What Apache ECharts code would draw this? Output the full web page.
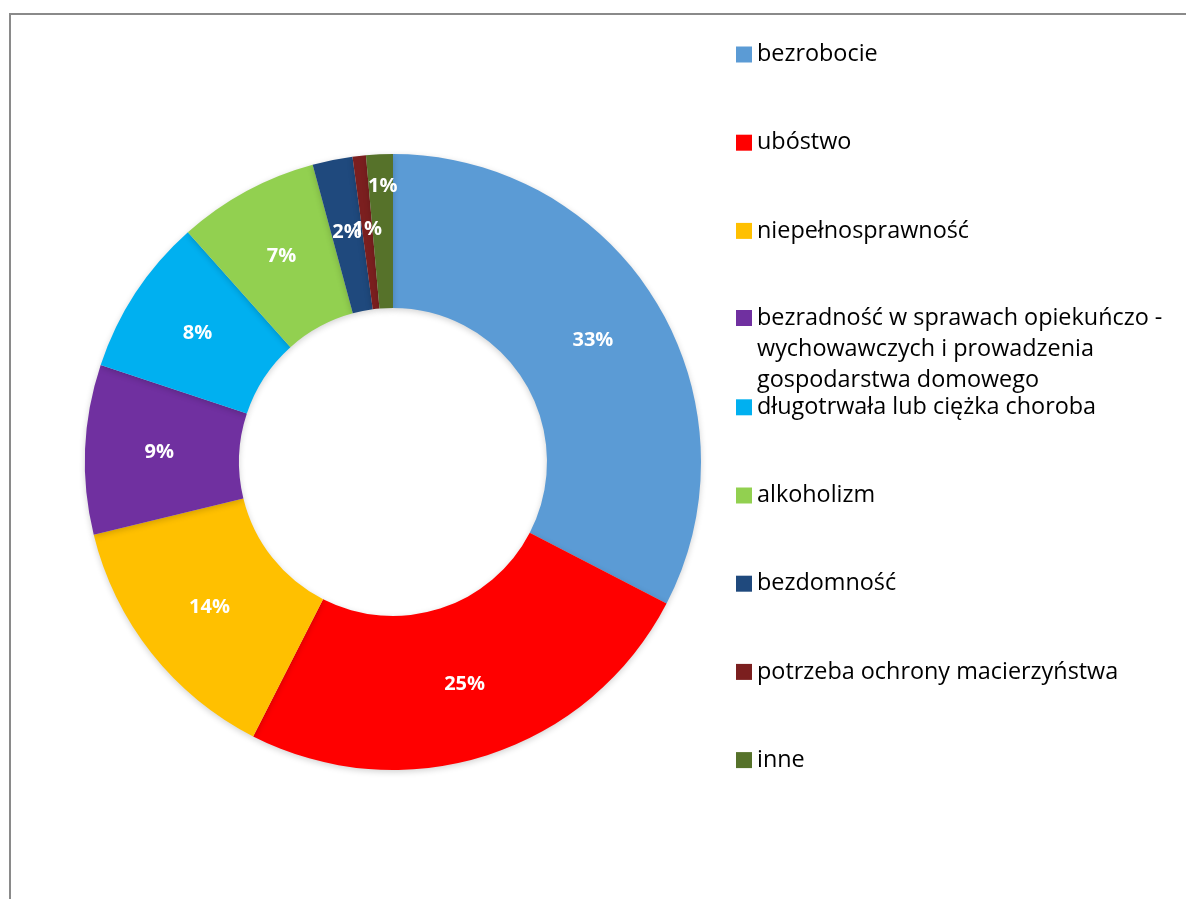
<!DOCTYPE html>
<html>
<head>
<meta charset="utf-8">
<script src="https://cdn.jsdelivr.net/npm/echarts@6/dist/echarts.min.js"></script>
<style>
html,body{margin:0;padding:0;background:#fff;}
#chart{width:1186px;height:899px;}
</style>
</head>
<body>
<div id="chart"></div>
<script>
const categories = [
  'bezrobocie',
  'ubóstwo',
  'niepełnosprawność',
  'bezradność w sprawach opiekuńczo - wychowawczych i prowadzenia gospodarstwa domowego',
  'długotrwała lub ciężka choroba',
  'alkoholizm',
  'bezdomność',
  'potrzeba ochrony macierzyństwa',
  'inne'
];
const values = [32.6, 24.9, 13.7, 8.9, 8.3, 7.4, 2.1, 0.7, 1.4];
const colors = ['#5B9BD5', '#FF0000', '#FFC000', '#7030A0', '#00B0F0', '#92D050', '#1F497D', '#7B1F1F', '#56722A'];

const pieData = categories.map((name, i) => ({
  name: name,
  value: values[i],
  itemStyle: { color: colors[i] }
}));

const legendFont = { fontFamily: 'Open Sans', fontSize: 23.4, color: '#000', lineHeight: 31 };
const legendCommon = {
  orient: 'vertical',
  left: 736,
  itemWidth: 16,
  itemHeight: 16,
  itemGap: 57.2,
  padding: 0,
  icon: 'rect',
  selectedMode: false,
  textStyle: legendFont
};

const chart = echarts.init(document.getElementById('chart'), null, { renderer: 'canvas' });
chart.setOption({
  backgroundColor: '#fff',
  animation: false,
  graphic: [{
    type: 'rect',
    shape: { x: 10, y: 14, width: 1400, height: 1200 },
    style: { fill: null, stroke: '#8a8a8a', lineWidth: 2 },
    silent: true
  }],
  legend: [
    Object.assign({}, legendCommon, { top: 39, data: categories.slice(0, 3) }),
    Object.assign({}, legendCommon, {
      top: 240.5,
      data: categories.slice(3, 4),
      formatter: function (name) {
        return '\n\n' + name.replace('opiekuńczo - ', 'opiekuńczo -\n').replace('prowadzenia ', 'prowadzenia\n');
      }
    }),
    Object.assign({}, legendCommon, { top: 391.8, data: categories.slice(4) })
  ],
  series: [{
    type: 'pie',
    center: [393, 462],
    radius: [154, 308],
    startAngle: 90,
    clockwise: true,
    percentPrecision: 0,
    avoidLabelOverlap: false,
    data: pieData,
    itemStyle: {
      borderWidth: 0,
      shadowBlur: 6,
      shadowOffsetY: 2,
      shadowColor: 'rgba(0,0,0,0.18)'
    },
    label: {
      show: true,
      position: 'inside',
      formatter: '{d}%',
      color: '#fff',
      fontFamily: 'Open Sans',
      fontWeight: 'bold',
      fontSize: 20
    },
    labelLine: { show: false },
    labelLayout: function (params) {
      if (params.dataIndex === 8) {
        return { dy: -42 };
      }
      return {};
    },
    emphasis: { disabled: true }
  }]
});
</script>
</body>
</html>
